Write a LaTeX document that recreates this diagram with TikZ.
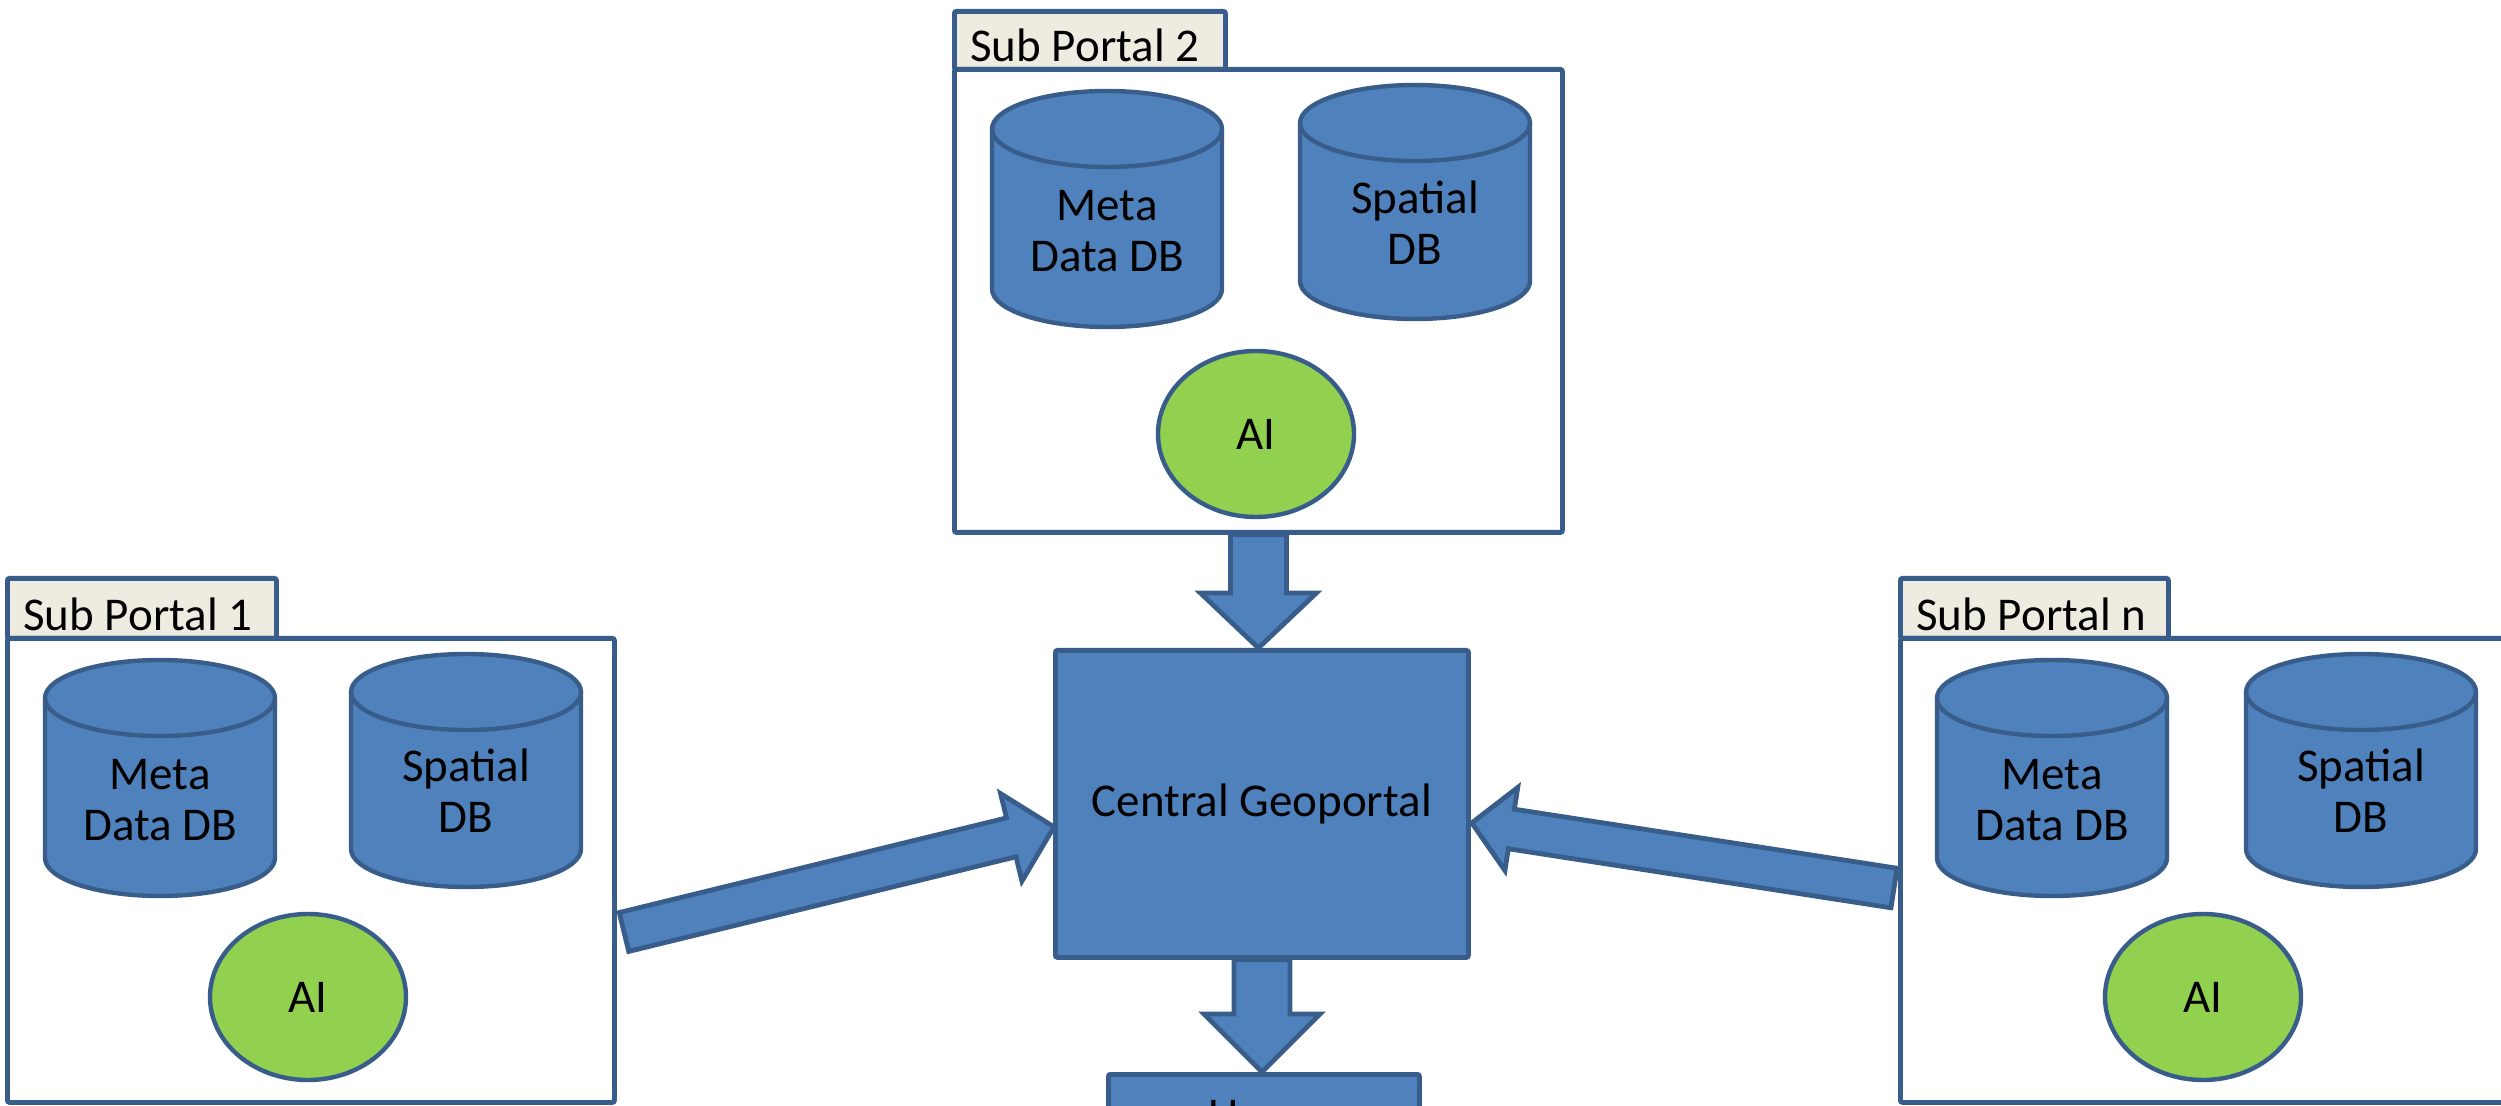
\documentclass[tikz,border=0pt]{standalone}
\usepackage{fontspec}
\setmainfont{Carlito}
\usetikzlibrary{calc,shapes.geometric}
\definecolor{bfill}{HTML}{4F81BD}
\definecolor{bline}{HTML}{385D8A}
\definecolor{gfill}{HTML}{92D050}
\definecolor{tfill}{HTML}{EEECE1}
\tikzset{
 txt/.style={font=\fontsize{23.5pt}{25.5pt}\selectfont, text=black, align=center, inner sep=0pt},
 pbox/.style={draw=bline, fill=white, line width=2.4pt, rounded corners=1pt, anchor=north west, inner sep=0pt},
 tabbox/.style={draw=bline, fill=tfill, line width=2.4pt, rounded corners=1pt, anchor=north west, inner sep=0pt},
 cyl/.style={draw=bline, fill=bfill, line width=2.2pt, line join=round},
 cylline/.style={draw=bline, line width=2.2pt},
 aiell/.style={ellipse, draw=bline, fill=gfill, line width=2.2pt, minimum width=98pt, minimum height=83pt, txt},
 bluebox/.style={draw=bline, fill=bfill, line width=2.4pt, rounded corners=1pt, anchor=north west, inner sep=0pt},
 arr/.style={draw=bline, fill=bfill, line width=2.4pt, line join=miter},
}
% cylinder: centre x, top y, bottom y (px)
\newcommand\dbcyl[3]{%
 \filldraw[cyl] ({#1-115},{#2+38}) -- ({#1-115},{#3-38})
   arc[start angle=180,end angle=360,x radius=57.5pt,y radius=19pt]
   -- ({#1+115},{#2+38})
   arc[start angle=0,end angle=180,x radius=57.5pt,y radius=19pt] -- cycle;
 \draw[cylline] ({#1-115},{#2+38})
   arc[start angle=180,end angle=360,x radius=57.5pt,y radius=19pt];
}
% block arrow: tail, tip, shaft half width, head half width, head length
\newcommand\blockarrow[5]{%
 \coordinate (ba-h) at ($(#2)!#5!(#1)$);
 \filldraw[arr] ($(#1)!#3!90:(#2)$) -- ($(ba-h)!#3!90:(#2)$) -- ($(ba-h)!#4!90:(#2)$)
   -- (#2) -- ($(ba-h)!#4!-90:(#2)$) -- ($(ba-h)!#3!-90:(#2)$) -- ($(#1)!#3!-90:(#2)$) -- cycle;
}
\begin{document}
\begin{tikzpicture}[x=0.5pt,y=-0.5pt]
\useasboundingbox (0,0) rectangle (2501,1106);
\clip (0,0) rectangle (2501,1106);

% ---------- Sub Portal 2 ----------
\node[tabbox, minimum width=135.5pt, minimum height=29pt] (tab2) at (952,9) {};
\node[pbox, minimum width=304pt, minimum height=231.5pt] (sp2) at (952,67) {};
\node[txt, anchor=base west] (tab2t) at (970,62) {Sub Portal 2};
\dbcyl{1107}{91}{327}
\dbcyl{1415}{85}{319}
\node[txt] (meta2) at (1107,231) {Meta\\Data DB};
\node[txt] (spat2) at (1415,223) {Spatial\\DB};
\node[aiell] (ai2) at (1256,434) {AI};

% ---------- Sub Portal 1 ----------
\node[tabbox, minimum width=134.5pt, minimum height=30pt] (tab1) at (5,576) {};
\node[pbox, minimum width=303.5pt, minimum height=232pt] (sp1) at (5,636) {};
\node[txt, anchor=base west] (tab1t) at (23,631) {Sub Portal 1};
\dbcyl{160}{660}{896}
\dbcyl{466}{654}{887}
\node[txt] (meta1) at (160,800) {Meta\\Data DB};
\node[txt] (spat1) at (466,791) {Spatial\\DB};
\node[aiell] (ai1) at (308,997) {AI};

% ---------- Sub Portal n ----------
\node[tabbox, minimum width=134pt, minimum height=30pt] (tabn) at (1898,576) {};
\node[pbox, minimum width=316pt, minimum height=232pt] (spn) at (1898,636) {};
\node[txt, anchor=base west] (tabnt) at (1916,631) {Sub Portal n};
\dbcyl{2052}{660}{896}
\dbcyl{2361}{654}{887}
\node[txt] (metan) at (2052,800) {Meta\\Data DB};
\node[txt] (spatn) at (2361,791) {Spatial\\DB};
\node[aiell] (ain) at (2203,997) {AI};

% ---------- Central + Users ----------
\node[bluebox, minimum width=206.5pt, minimum height=153.5pt, txt] (central) at (1053,648) {Central Geoportal};
\node[bluebox, minimum width=155.5pt, minimum height=70pt] (users) at (1106,1072) {};
\node[txt, anchor=base] (userst) at (1261,1130) {Users};

% ---------- Arrows ----------
\coordinate (a2s) at (sp2.south);
\coordinate (a2e) at (sp2.south |- central.north);
\blockarrow{a2s}{a2e}{14pt}{29pt}{27.5pt}

\coordinate (a3s) at (central.south);
\coordinate (a3e) at (central.south |- users.north);
\blockarrow{a3s}{a3e}{14pt}{29pt}{29pt}

\coordinate (a1s) at (624,932);
\coordinate (a1e) at ($(central.west)+(1,23)$);
\blockarrow{a1s}{a1e}{10pt}{22.5pt}{22pt}

\coordinate (ans) at (1894,888);
\coordinate (ane) at ($(central.east)+(1,19)$);
\blockarrow{ans}{ane}{10pt}{21pt}{20pt}
\end{tikzpicture}
\end{document}
